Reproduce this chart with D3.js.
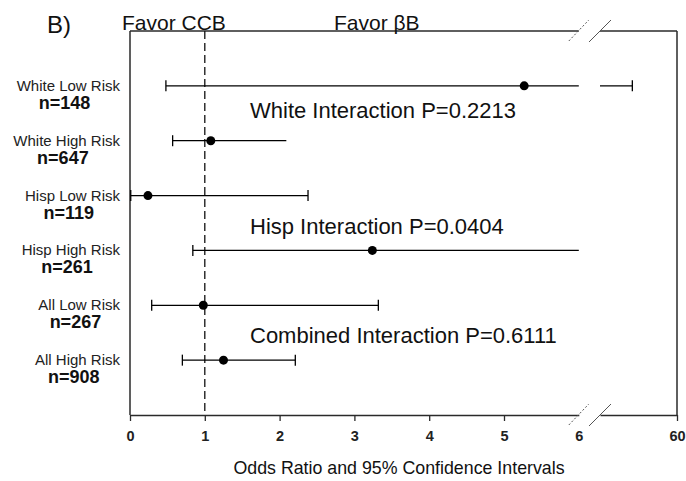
<!DOCTYPE html>
<html>
<head>
<meta charset="utf-8">
<script src="https://cdn.jsdelivr.net/npm/d3@7"></script>
<style>
  body { margin: 0; background: #fff; }
  svg { display: block; font-family: "Liberation Sans", Arial, sans-serif; }
</style>
</head>
<body>
<div id="chart"></div>
<script>
// Subgroups, sample sizes and odds ratios with 95% CI
const groups = ["White Low Risk", "White High Risk", "Hisp Low Risk", "Hisp High Risk", "All Low Risk", "All High Risk"];
const sampleSizes = ["n=148", "n=647", "n=119", "n=261", "n=267", "n=908"];
const oddsRatio = [5.27, 1.08, 0.24, 3.24, 0.98, 1.25];
const ciLower = [0.48, 0.57, 0.01, 0.84, 0.29, 0.70];
const ciUpper = [31, 2.09, 2.38, 8, 3.32, 2.21];
const upperCap = [true, false, true, false, true, true];
const interactionLabels = ["White Interaction P=0.2213", "Hisp Interaction P=0.0404", "Combined Interaction P=0.6111"];
const interactionAfterRow = [1, 3, 5];
const lowTicks = [0, 1, 2, 3, 4, 5, 6];
const highTicks = [60];

const width = 686, height = 481;
const svg = d3.select("#chart").append("svg")
    .attr("width", width)
    .attr("height", height);

// Broken x axis: 0..6 on the left part, 10..60 squeezed after the break
const breakLo = 6, breakHi = 10;
const xLo = d3.scaleLinear().domain([0, breakLo]).range([130, 578.8]);
const xHi = d3.scaleLinear().domain([breakHi, 60]).range([600, 677]);
const y = d3.scaleLinear().domain([0, 7]).range([31, 415]);
const yTop = y(0), yBottom = y(7);

const frame = "#2a2a2a";

// Box (top line is broken too)
svg.append("line").attr("x1", xLo(0)).attr("x2", xLo(0)).attr("y1", yTop).attr("y2", yBottom)
    .attr("stroke", frame).attr("stroke-width", 1.5);
svg.append("line").attr("x1", xHi(60)).attr("x2", xHi(60)).attr("y1", yTop).attr("y2", yBottom)
    .attr("stroke", frame).attr("stroke-width", 1.5);
svg.append("line").attr("x1", xLo(0)).attr("x2", xLo(breakLo)).attr("y1", yTop).attr("y2", yTop)
    .attr("stroke", frame).attr("stroke-width", 1.5);
svg.append("line").attr("x1", xHi(breakHi)).attr("x2", xHi(60)).attr("y1", yTop).attr("y2", yTop)
    .attr("stroke", frame).attr("stroke-width", 1.5);

// Bottom axes
const axisLo = svg.append("g")
    .attr("transform", `translate(0,${yBottom})`)
    .call(d3.axisBottom(xLo).tickValues(lowTicks).tickFormat(d3.format("d"))
        .tickSize(6).tickSizeOuter(0).tickPadding(10));
const axisHi = svg.append("g")
    .attr("transform", `translate(0,${yBottom})`)
    .call(d3.axisBottom(xHi).tickValues(highTicks).tickFormat(d3.format("d"))
        .tickSize(6).tickSizeOuter(0).tickPadding(10));
[axisLo, axisHi].forEach(a => {
    a.select(".domain").attr("stroke", frame).attr("stroke-width", 1.5);
    a.selectAll(".tick line").attr("stroke", frame).attr("stroke-width", 1.3);
    a.selectAll(".tick text")
        .attr("font-family", "'Liberation Sans', Arial, sans-serif")
        .attr("font-size", 14.5)
        .attr("font-weight", "bold")
        .attr("fill", "#222");
});
axisLo.selectAll(".tick").filter(d => d === breakLo).select("line").remove();

// Break marks on top and bottom
[yTop, yBottom].forEach(yy => {
    svg.append("line")
        .attr("x1", xLo(breakLo) - 10).attr("y1", yy + 10)
        .attr("x2", xLo(breakLo) + 10).attr("y2", yy - 11)
        .attr("stroke", "#555").attr("stroke-width", 1).attr("stroke-dasharray", "2,2");
    svg.append("line")
        .attr("x1", xHi(breakHi) - 11).attr("y1", yy + 11)
        .attr("x2", xHi(breakHi) + 11).attr("y2", yy - 11)
        .attr("stroke", "#555").attr("stroke-width", 1);
});

// Reference line at OR = 1
svg.append("line")
    .attr("x1", xLo(1)).attr("x2", xLo(1))
    .attr("y1", yTop).attr("y2", yBottom)
    .attr("stroke", "#111").attr("stroke-width", 1.3)
    .attr("stroke-dasharray", "8,4");

// Error bars and point estimates
const capHalf = 5.5;
groups.forEach((g, i) => {
    const yy = y(i + 1);
    const lo = ciLower[i], hi = ciUpper[i];
    const segs = [];
    if (hi <= breakLo) segs.push([xLo(lo), xLo(hi)]);
    else {
        segs.push([xLo(lo), xLo(breakLo)]);
        if (hi >= breakHi) segs.push([xHi(breakHi), xHi(hi)]);
    }
    segs.forEach(s => {
        svg.append("line").attr("x1", s[0]).attr("x2", s[1]).attr("y1", yy).attr("y2", yy)
            .attr("stroke", "#000").attr("stroke-width", 1.3);
    });
    svg.append("line").attr("x1", xLo(lo)).attr("x2", xLo(lo))
        .attr("y1", yy - capHalf).attr("y2", yy + capHalf)
        .attr("stroke", "#000").attr("stroke-width", 1.3);
    const hx = hi <= breakLo ? xLo(hi) : hi >= breakHi ? xHi(hi) : null;
    if (hx !== null && upperCap[i]) {
        svg.append("line").attr("x1", hx).attr("x2", hx)
            .attr("y1", yy - capHalf).attr("y2", yy + capHalf)
            .attr("stroke", "#000").attr("stroke-width", 1.3);
    }
    svg.append("circle")
        .attr("cx", xLo(oddsRatio[i])).attr("cy", yy).attr("r", 4.5)
        .attr("fill", "#000");

    // Row labels: group name right-aligned, sample size centred a bit left under it
    const lab = svg.append("text")
        .attr("x", 120).attr("y", yy + 5)
        .attr("text-anchor", "end")
        .attr("font-size", 15)
        .attr("fill", "#222")
        .text(g);
    const box = lab.node().getBBox();
    svg.append("text")
        .attr("x", box.x + box.width / 2 - 4).attr("y", yy + 23)
        .attr("text-anchor", "middle")
        .attr("font-size", 18)
        .attr("font-weight", "bold")
        .attr("fill", "#111")
        .text(sampleSizes[i]);
});

// Interaction p-values
const interactionOffset = [5, 11, 10];
interactionLabels.forEach((t, i) => {
    svg.append("text")
        .attr("x", 250)
        .attr("y", y(interactionAfterRow[i] + 0.5) + interactionOffset[i])
        .attr("font-size", 22)
        .attr("fill", "#111")
        .text(t);
});

// Headers and axis title
svg.append("text").attr("x", 47).attr("y", 33).attr("font-size", 24).attr("fill", "#111").text("B)");
svg.append("text").attr("x", 122).attr("y", 30).attr("font-size", 21).attr("fill", "#111").text("Favor CCB");
svg.append("text").attr("x", 334).attr("y", 30).attr("font-size", 21).attr("fill", "#111").text("Favor βB");
svg.append("text")
    .attr("x", 399).attr("y", 474)
    .attr("text-anchor", "middle")
    .attr("font-size", 17.8)
    .attr("fill", "#111")
    .text("Odds Ratio and 95% Confidence Intervals");
</script>
</body>
</html>
